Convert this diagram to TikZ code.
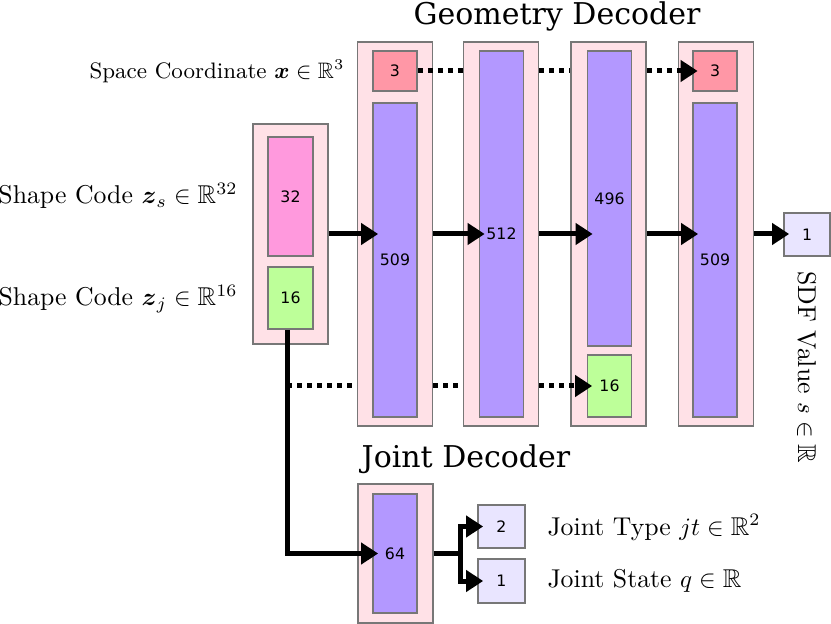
\documentclass[tikz,border=0pt]{standalone}
\usepackage{amsmath,amssymb}
\usepackage{fontspec}
\newfontfamily\titlefont{DejaVu Serif}
\newfontfamily\numfont{DejaVu Sans}
\usetikzlibrary{arrows.meta}
\definecolor{edgegray}{HTML}{777777}
\definecolor{layerbg}{HTML}{FFE1E7}
\definecolor{coordred}{HTML}{FF97A6}
\definecolor{unitpurple}{HTML}{B398FF}
\definecolor{shapepink}{HTML}{FF99DD}
\definecolor{jointgreen}{HTML}{BDFF99}
\definecolor{outlav}{HTML}{E9E5FF}
\begin{document}
\begin{tikzpicture}[x=0.4pt, y=-0.4pt,
  layer/.style={draw=edgegray, line width=0.7pt, fill=layerbg, inner sep=0pt, minimum width=30pt},
  cell/.style={draw=edgegray, line width=0.7pt, inner sep=0pt, minimum width=17.6pt,
    font=\numfont\fontsize{6.3}{7}\selectfont},
  title/.style={font=\titlefont\fontsize{12}{14}\selectfont},
  caption/.style={font=\fontsize{10.3}{12}\selectfont, inner sep=0pt},
  flow/.style={line width=2pt, -{Triangle[length=6.8pt,width=8.4pt]}, shorten >=-2.4pt},
  skip/.style={line width=2pt, dash pattern=on 2pt off 2pt},
  skipflow/.style={skip, -{Triangle[length=6.8pt,width=8.4pt]}, shorten >=-2.2pt},
]
\useasboundingbox (0,0) rectangle (831,624);

% latent codes
\node[layer, minimum height=88pt]                                   (inbox) at (290.5,234) {};
\node[cell, fill=shapepink, minimum width=18pt, minimum height=47.6pt] (zs) at (290.5,196.5) {32};
\node[cell, fill=jointgreen, minimum width=18pt, minimum height=24.8pt] (zj) at (290.5,298) {16};

% geometry decoder, four layers
\node[layer, minimum height=153.6pt]                    (outer1) at (395,234)   {};
\node[cell, fill=coordred, minimum height=16pt]         (pos1)   at (395,71)    {3};
\node[cell, fill=unitpurple, minimum height=125.6pt]    (unit1)  at (395,260)   {509};
\node[layer, minimum height=153.6pt]                    (outer2) at (501,234)   {};
\node[cell, fill=unitpurple, minimum height=146.4pt]    (unit2)  at (501.5,234) {512};
\node[layer, minimum height=153.6pt]                    (outer3) at (608.5,234) {};
\node[cell, fill=unitpurple, minimum height=118pt]      (unit3)  at (609.5,198.5) {496};
\node[cell, fill=jointgreen, minimum height=24.8pt]     (code3)  at (609.5,386) {16};
\node[layer, minimum height=153.6pt]                    (outer4) at (716,234)   {};
\node[cell, fill=coordred, minimum height=16pt]         (pos4)   at (715,71)    {3};
\node[cell, fill=unitpurple, minimum height=125.6pt]    (unit4)  at (715,260)   {509};
\node[cell, fill=outlav, minimum width=18.4pt, minimum height=17.2pt] (sdf) at (807,234.5) {1};

% joint decoder
\node[layer, minimum height=55.6pt]                     (jouter) at (395.5,553.5) {};
\node[cell, fill=unitpurple, minimum height=47.6pt]     (junit)  at (395,553.5) {64};
\node[cell, fill=outlav, minimum width=18.8pt, minimum height=17.2pt] (jtype)  at (501.5,526.5) {2};
\node[cell, fill=outlav, minimum width=18.8pt, minimum height=17.6pt] (jstate) at (501.5,581) {1};

% titles and captions
\node[title, anchor=base]            (gtitle)  at (557,25)  {Geometry Decoder};
\node[title, anchor=base]            (jtitle)  at (466,467) {Joint Decoder};
\node[caption, anchor=base east, font=\fontsize{8.95}{11}\selectfont]
                                     (xlabel)  at (345,79)  {Space Coordinate $\boldsymbol{x} \in \mathbb{R}^3$};
\node[caption, anchor=base east]     (zslabel) at (238,204) {Shape Code $\boldsymbol{z}_s \in \mathbb{R}^{32}$};
\node[caption, anchor=base east]     (zjlabel) at (238,306) {Shape Code $\boldsymbol{z}_j \in \mathbb{R}^{16}$};
\node[caption, anchor=base west]     (jtlabel) at (547,535) {Joint Type $jt \in \mathbb{R}^2$};
\node[caption, anchor=base west]     (jslabel) at (547,587) {Joint State $q \in \mathbb{R}$};
\node[caption, anchor=base west, rotate=-90] (sdflabel) at (798,271) {SDF Value $s \in \mathbb{R}$};

% main path through the layers
\draw[flow] (inbox.east) -- (inbox.east -| unit1.west);
\draw[flow] (outer1.east) -- (unit2.west);
\draw[flow] (outer2.east) -- (outer2.east -| unit3.west);
\draw[flow] (outer3.east) -- (outer3.east -| unit4.west);
\draw[flow] (outer4.east) -- (outer4.east -| sdf.west);

% skip connections, only seen between the layers
\draw[skip]     (pos1.east) -- (pos1.east -| outer2.west);
\draw[skip]     (pos1.east -| outer2.east) -- (pos1.east -| outer3.west);
\draw[skipflow] (pos1.east -| outer3.east) -- (pos4.west);
\coordinate (tap) at ([xshift=-1.4pt]zj.south);
\draw[skip]     (tap |- code3.west) -- (code3.west -| outer1.west);
\draw[skip]     (code3.west -| outer1.east) -- (code3.west -| outer2.west);
\draw[skipflow] (code3.west -| outer2.east) -- (code3.west);

% joint branch
\draw[flow] (tap) |- (junit.west);
\draw[flow] (jouter.east) -- ++(27,0) |- (jtype.west);
\draw[flow] (jouter.east) -- ++(27,0) |- (jstate.west);
\end{tikzpicture}
\end{document}
